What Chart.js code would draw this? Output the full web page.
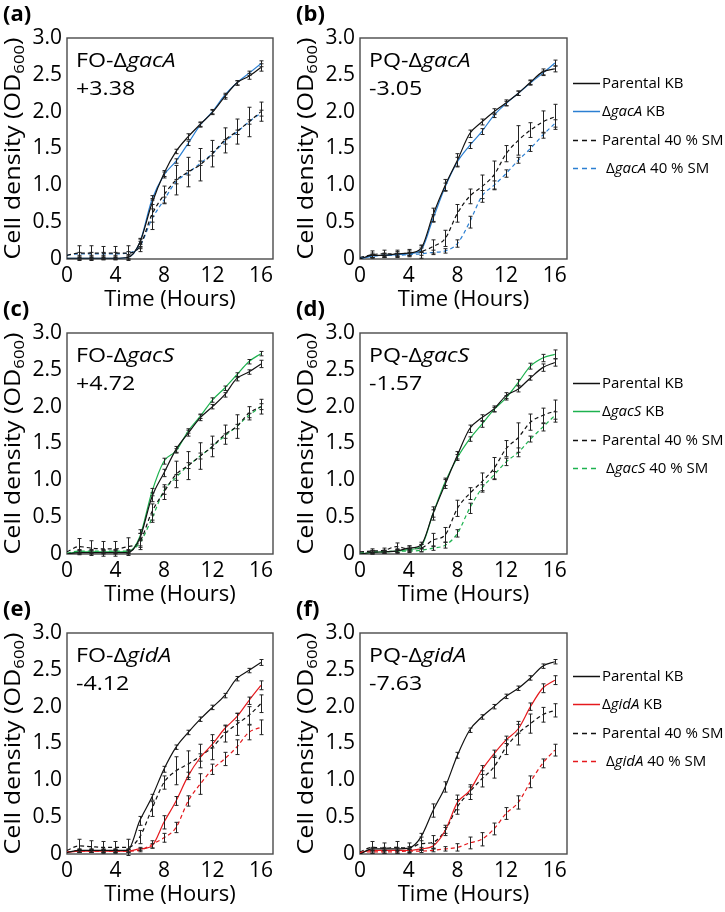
<!DOCTYPE html>
<html><head><meta charset="utf-8">
<script src="https://cdn.jsdelivr.net/npm/chart.js@4"></script>
<style>
html,body{margin:0;padding:0;background:#fff;overflow:hidden;width:725px;height:912px;}
.p{position:absolute;}
canvas{display:block;}
</style></head><body>
<div class="p" style="left:0;top:0"><canvas id="ca" width="278" height="312"></canvas></div>
<div class="p" style="left:293px;top:0"><canvas id="cb" width="432" height="312"></canvas></div>
<div class="p" style="left:0;top:295px"><canvas id="cc" width="278" height="312"></canvas></div>
<div class="p" style="left:293px;top:295px"><canvas id="cd" width="432" height="312"></canvas></div>
<div class="p" style="left:0;top:595px"><canvas id="ce" width="278" height="312"></canvas></div>
<div class="p" style="left:293px;top:595px"><canvas id="cf" width="432" height="312"></canvas></div>
<script>
// ---- shared axis data ----
const hours = [0,1,2,3,4,5,6,7,8,9,10,11,12,13,14,15,16];
const xTickValues = [0,4,8,12,16];
const yTickValues = [0,0.5,1.0,1.5,2.0,2.5,3.0];

// ---- panel (a) FO-ΔgacA ----
const aParKB = [0.01,0.01,0.01,0.01,0.01,0.02,0.22,0.75,1.16,1.46,1.66,1.83,1.99,2.20,2.39,2.48,2.60];
const aMutKB = [0.01,0.01,0.01,0.01,0.01,0.02,0.22,0.80,1.14,1.33,1.57,1.82,2.00,2.22,2.39,2.52,2.65];
const aParSM = [0.05,0.08,0.08,0.08,0.08,0.08,0.17,0.60,0.87,1.07,1.18,1.28,1.43,1.61,1.73,1.86,2.00];
const aMutSM = [0.05,0.07,0.07,0.07,0.07,0.08,0.17,0.54,0.80,1.05,1.17,1.30,1.43,1.59,1.72,1.86,1.98];
const aParKBErr = [0,0.02,0.02,0.02,0.02,0.02,0.06,0.07,0.04,0.03,0.04,0.03,0.03,0.03,0.03,0.04,0.05];
const aMutKBErr = [0,0.01,0.01,0.01,0.01,0.02,0.05,0.06,0.04,0.03,0.03,0.03,0.03,0.03,0.03,0.03,0.04];
const aParSMErr = [0,0.10,0.10,0.09,0.09,0.10,0.07,0.20,0.12,0.20,0.20,0.22,0.18,0.17,0.17,0.20,0.13];
const aMutSMErr = [0,0.02,0.02,0.02,0.02,0.02,0.03,0.04,0.04,0.03,0.03,0.03,0.03,0.03,0.03,0.03,0.04];

// ---- panel (b) PQ-ΔgacA ----
const bParKB = [0.00,0.05,0.05,0.07,0.08,0.14,0.60,1.00,1.34,1.70,1.86,2.00,2.12,2.25,2.40,2.54,2.58];
const bMutKB = [0.00,0.04,0.05,0.06,0.07,0.12,0.55,0.98,1.32,1.54,1.73,1.95,2.11,2.25,2.39,2.52,2.66];
const bParSM = [0.02,0.06,0.07,0.07,0.08,0.10,0.17,0.28,0.62,0.85,0.98,1.14,1.43,1.61,1.75,1.86,1.93];
const bMutSM = [0.02,0.04,0.05,0.05,0.06,0.07,0.09,0.11,0.21,0.50,0.85,1.00,1.16,1.34,1.50,1.68,1.84];
const bParKBErr = [0,0.03,0.03,0.03,0.03,0.04,0.09,0.08,0.09,0.05,0.04,0.04,0.04,0.03,0.03,0.04,0.04];
const bMutKBErr = [0,0.02,0.02,0.02,0.02,0.03,0.05,0.05,0.06,0.04,0.04,0.03,0.03,0.03,0.03,0.03,0.04];
const bParSMErr = [0,0.05,0.05,0.05,0.05,0.09,0.09,0.11,0.12,0.10,0.16,0.19,0.11,0.20,0.10,0.15,0.17];
const bMutSMErr = [0,0.02,0.02,0.02,0.02,0.02,0.03,0.03,0.05,0.08,0.08,0.06,0.05,0.04,0.04,0.04,0.05];

// ---- panel (c) FO-ΔgacS ----
const cParKB = [0.00,0.02,0.02,0.02,0.02,0.02,0.21,0.77,1.10,1.42,1.64,1.85,2.00,2.16,2.38,2.47,2.58];
const cMutKB = [0.00,0.03,0.03,0.03,0.03,0.03,0.23,0.84,1.26,1.40,1.67,1.87,2.09,2.25,2.43,2.61,2.72];
const cParSM = [0.03,0.10,0.08,0.07,0.07,0.10,0.17,0.57,0.84,1.08,1.20,1.33,1.46,1.62,1.73,1.91,2.00];
const cMutSM = [0.01,0.04,0.04,0.04,0.04,0.04,0.15,0.48,0.86,1.04,1.20,1.33,1.46,1.60,1.73,1.88,2.00];
const cParKBErr = [0,0.02,0.02,0.02,0.02,0.02,0.12,0.06,0.05,0.04,0.04,0.04,0.03,0.03,0.03,0.03,0.05];
const cMutKBErr = [0,0.02,0.02,0.02,0.02,0.02,0.05,0.05,0.04,0.03,0.03,0.03,0.03,0.03,0.03,0.03,0.03];
const cParSMErr = [0,0.11,0.10,0.10,0.10,0.12,0.11,0.11,0.10,0.18,0.19,0.18,0.14,0.13,0.16,0.09,0.10];
const cMutSMErr = [0,0.02,0.02,0.02,0.02,0.02,0.04,0.05,0.05,0.04,0.04,0.04,0.03,0.03,0.03,0.03,0.04];

// ---- panel (d) PQ-ΔgacS ----
const dParKB = [0.00,0.02,0.03,0.04,0.08,0.12,0.55,0.95,1.34,1.70,1.85,1.97,2.15,2.24,2.39,2.53,2.60];
const dMutKB = [0.00,0.02,0.03,0.04,0.06,0.10,0.55,0.98,1.31,1.56,1.76,1.96,2.12,2.33,2.55,2.66,2.71];
const dParSM = [0.03,0.04,0.05,0.10,0.07,0.08,0.19,0.26,0.62,0.82,0.98,1.16,1.43,1.58,1.79,1.88,1.94];
const dMutSM = [0.01,0.03,0.03,0.04,0.04,0.05,0.08,0.12,0.28,0.62,0.89,1.07,1.25,1.38,1.56,1.72,1.88];
const dParKBErr = [0,0.02,0.02,0.03,0.03,0.04,0.09,0.06,0.05,0.05,0.04,0.04,0.04,0.04,0.03,0.05,0.05];
const dMutKBErr = [0,0.02,0.02,0.02,0.02,0.03,0.05,0.05,0.04,0.03,0.04,0.03,0.03,0.04,0.04,0.05,0.06];
const dParSMErr = [0,0.03,0.03,0.05,0.04,0.05,0.09,0.10,0.11,0.08,0.12,0.15,0.11,0.20,0.11,0.10,0.15];
const dMutSMErr = [0,0.02,0.02,0.02,0.02,0.02,0.03,0.04,0.05,0.07,0.05,0.05,0.05,0.06,0.04,0.05,0.05];

// ---- panel (e) FO-ΔgidA ----
const eParKB = [0.02,0.05,0.05,0.05,0.05,0.05,0.45,0.77,1.15,1.45,1.65,1.83,1.99,2.15,2.38,2.49,2.60];
const eMutKB = [0.02,0.04,0.04,0.04,0.04,0.04,0.07,0.11,0.43,0.72,1.06,1.31,1.49,1.70,1.86,2.08,2.29];
const eParSM = [0.05,0.11,0.10,0.09,0.09,0.09,0.23,0.61,0.97,1.13,1.22,1.33,1.45,1.63,1.76,1.88,2.04];
const eMutSM = [0.03,0.04,0.04,0.04,0.04,0.04,0.05,0.13,0.22,0.36,0.72,0.95,1.15,1.29,1.45,1.65,1.72];
const eParKBErr = [0,0.02,0.02,0.02,0.02,0.02,0.06,0.04,0.04,0.03,0.03,0.03,0.03,0.03,0.03,0.03,0.04];
const eMutKBErr = [0,0.02,0.02,0.02,0.02,0.02,0.02,0.03,0.09,0.06,0.05,0.05,0.05,0.05,0.05,0.05,0.06];
const eParSMErr = [0,0.09,0.08,0.08,0.08,0.11,0.09,0.10,0.09,0.19,0.18,0.16,0.17,0.11,0.15,0.12,0.12];
const eMutSMErr = [0,0.02,0.02,0.02,0.02,0.02,0.02,0.05,0.06,0.07,0.07,0.14,0.07,0.09,0.10,0.10,0.10];

// ---- panel (f) PQ-ΔgidA ----
const fParKB = [0.00,0.07,0.07,0.07,0.08,0.23,0.59,0.91,1.34,1.68,1.86,2.00,2.14,2.25,2.39,2.55,2.61];
const fMutKB = [0.02,0.05,0.05,0.05,0.05,0.07,0.11,0.32,0.70,0.86,1.14,1.36,1.55,1.70,2.00,2.25,2.36];
const fParSM = [0.03,0.09,0.08,0.09,0.08,0.14,0.16,0.32,0.64,0.84,1.02,1.18,1.45,1.64,1.77,1.89,1.95];
const fMutSM = [0.02,0.03,0.03,0.03,0.04,0.04,0.05,0.07,0.09,0.15,0.20,0.34,0.55,0.70,0.98,1.23,1.41];
const fParKBErr = [0,0.02,0.02,0.02,0.02,0.05,0.09,0.07,0.04,0.03,0.03,0.03,0.03,0.03,0.03,0.03,0.03];
const fMutKBErr = [0,0.02,0.02,0.02,0.02,0.02,0.03,0.04,0.10,0.05,0.06,0.05,0.05,0.06,0.05,0.06,0.06];
const fParSMErr = [0,0.08,0.07,0.08,0.07,0.09,0.09,0.07,0.10,0.10,0.11,0.15,0.10,0.16,0.13,0.10,0.09];
const fMutSMErr = [0,0.02,0.02,0.02,0.02,0.02,0.02,0.03,0.05,0.08,0.09,0.08,0.08,0.09,0.08,0.06,0.08];

// ---- labels ----
const panelLetters = ['(a)','(b)','(c)','(d)','(e)','(f)'];
const panelPrefixes = ['FO-','PQ-','FO-','PQ-','FO-','PQ-'];
const panelGenes = ['gacA','gacA','gacS','gacS','gidA','gidA'];
const panelScores = ['+3.38','-3.05','+4.72','-1.57','-4.12','-7.63'];
const seriesSuffixes = [' KB', ' KB', ' 40 % SM', ' 40 % SM'];
const seriesIsMutant = [false, true, false, true];
const mutantColors = {gacA:'#2b7fd2', gacS:'#1db24f', gidA:'#e5191d'};
const xTitle = 'Time (Hours)';
const yTitleMain = 'Cell density (OD';
const yTitleSub = '600';
const yTitleEnd = ')';

const FONT = '"Open Sans", "Liberation Sans", sans-serif';

function pts(vals){ return hours.map((h,i)=>({x:h, y:vals[i]})); }

function errorBarsPlugin(){
  return {
    id:'errorBars',
    afterDatasetsDraw(chart){
      const {ctx, scales:{x, y}} = chart;
      ctx.save();
      ctx.strokeStyle = '#222';
      ctx.lineWidth = 1;
      chart.data.datasets.forEach(ds=>{
        const errs = ds.errorValues;
        if(!errs) return;
        ds.data.forEach((p,j)=>{
          const e = errs[j];
          if(!e) return;
          const px = Math.round(x.getPixelForValue(p.x)) + 0.5;
          const y1 = y.getPixelForValue(p.y - e), y2 = y.getPixelForValue(p.y + e);
          ctx.beginPath();
          ctx.moveTo(px, y1); ctx.lineTo(px, y2);
          ctx.moveTo(px-2, y1); ctx.lineTo(px+2, y1);
          ctx.moveTo(px-2, y2); ctx.lineTo(px+2, y2);
          ctx.stroke();
        });
      });
      ctx.restore();
    }
  };
}

function framePlugin(){
  return {
    id:'frame',
    beforeDatasetsDraw(chart){
      const {ctx, chartArea:a} = chart;
      ctx.save();
      ctx.strokeStyle = '#4a4a4a';
      ctx.lineWidth = 1.4;
      ctx.strokeRect(a.left, a.top, a.right - a.left, a.bottom - a.top);
      ctx.restore();
    }
  };
}

function yTitlePlugin(){
  return {
    id:'yTitleSub',
    afterDraw(chart){
      const {ctx, chartArea:a} = chart;
      const big = '21px ' + FONT, small = '14px ' + FONT;
      ctx.save();
      ctx.translate(a.left - 53, (a.top + a.bottom)/2);
      ctx.rotate(-Math.PI/2);
      ctx.font = big; const w1 = ctx.measureText(yTitleMain).width;
      ctx.font = small; const w2 = ctx.measureText(yTitleSub).width;
      ctx.font = big; const w3 = ctx.measureText(yTitleEnd).width;
      const total = w1 + w2 + w3;
      const s = Math.min(1.3, 222 / total);
      ctx.scale(s, 1);
      ctx.fillStyle = '#000';
      ctx.textBaseline = 'alphabetic';
      let xx = -total/2;
      ctx.font = big; ctx.fillText(yTitleMain, xx, 6); xx += w1;
      ctx.font = small; ctx.fillText(yTitleSub, xx, 10); xx += w2;
      ctx.font = big; ctx.fillText(yTitleEnd, xx, 6);
      ctx.restore();
    }
  };
}

function drawParts(ctx, parts, x, y, size){
  parts.forEach(([t, it])=>{
    ctx.font = (it ? 'italic ' : '') + size + 'px ' + FONT;
    ctx.fillText(t, x, y);
    x += ctx.measureText(t).width;
  });
}

function annotationPlugin(i){
  return {
    id:'panelLabel',
    afterDraw(chart){
      const {ctx, chartArea:a} = chart;
      ctx.save();
      ctx.fillStyle = '#000';
      ctx.textBaseline = 'alphabetic';
      ctx.translate(a.left + 9, 0);
      ctx.scale(1.16, 1);
      drawParts(ctx, [[panelPrefixes[i], false], ['\u0394', false], [panelGenes[i], true]], 0, a.top + 29, 20);
      ctx.font = '20px ' + FONT;
      ctx.fillText(panelScores[i], 0, a.top + 57);
      ctx.restore();
    }
  };
}

// side legend drawn from the datasets' own styles, with italic gene names
function sideLegendPlugin(i, offsetTop){
  return {
    id:'sideLegend',
    afterDraw(chart){
      const {ctx, chartArea:a} = chart;
      ctx.save();
      ctx.textBaseline = 'middle';
      chart.data.datasets.forEach((ds, k)=>{
        const cy = Math.round(a.top + offsetTop + k * 28.3) + 0.5;
        ctx.strokeStyle = ds.borderColor;
        ctx.lineWidth = 1.5;
        ctx.setLineDash(ds.borderDash && ds.borderDash.length ? [5, 4] : []);
        ctx.beginPath();
        ctx.moveTo(a.right + 6, cy);
        ctx.lineTo(a.right + 33, cy);
        ctx.stroke();
        ctx.setLineDash([]);
        ctx.fillStyle = '#000';
        const parts = seriesIsMutant[k]
          ? [['\u0394', false], [panelGenes[i], true], [seriesSuffixes[k], false]]
          : [['Parental' + seriesSuffixes[k], false]];
        drawParts(ctx, parts, a.right + 35 + (k === 3 ? 4 : 0), cy, 15);
      });
      ctx.restore();
    }
  };
}

function makePanel(canvasId, i, series, withLegend, legendTop){
  const gene = panelGenes[i];
  const mc = mutantColors[gene];
  const colors = ['#111111', mc, '#111111', mc];
  const dashes = [[], [], [4,3], [4,3]];
  const datasets = series.map((s, k)=>({
    label: (seriesIsMutant[k] ? '\u0394' + gene : 'Parental') + seriesSuffixes[k],
    data: pts(s.vals),
    errorValues: s.errs,
    borderColor: colors[k],
    backgroundColor: colors[k],
    borderWidth: 1.2,
    borderDash: dashes[k],
    pointRadius: 0,
    cubicInterpolationMode: 'monotone',
    fill: false
  }));
  const plugins = [framePlugin(), errorBarsPlugin(), yTitlePlugin(), annotationPlugin(i)];
  if (withLegend) plugins.push(sideLegendPlugin(i, legendTop));
  return new Chart(document.getElementById(canvasId), {
    type:'line',
    data:{datasets},
    options:{
      responsive:false,
      animation:false,
      devicePixelRatio:1,
      events:[],
      layout:{padding:{left:3, right: withLegend ? 158 : 5, top:0, bottom:0}},
      plugins:{
        title:{display:true, text:panelLetters[i], align:'start', color:'#000',
          font:{family:FONT, size:22, weight:'bold', lineHeight:1.2}, padding:{top:2, bottom:9.6}},
        legend:{display:false},
        tooltip:{enabled:false}
      },
      scales:{
        x:{type:'linear', min:0, max:17,
          afterFit:(s)=>{ s.height = 53; },
          grid:{display:false, drawTicks:false}, border:{display:false},
          ticks:{stepSize:4, includeBounds:false, padding:4, color:'#000', font:{family:FONT, size:21},
            callback:(v)=> xTickValues.includes(v) ? String(v) : ''},
          title:{display:true, text:xTitle, color:'#000', font:{family:FONT, size:22, lineHeight:1.15}, padding:{top:0, bottom:0}}
        },
        y:{type:'linear', min:0, max:3,
          afterFit:(s)=>{ s.width = 64; },
          grid:{display:false, drawTicks:false}, border:{display:false},
          ticks:{stepSize:0.5, padding:5, color:'#000', font:{family:FONT, size:21},
            callback:(v)=> yTickValues.includes(v) ? (v === 0 ? '0' : v.toFixed(1)) : ''}
        }
      }
    },
    plugins
  });
}

makePanel('ca', 0, [{vals:aParKB, errs:aParKBErr},{vals:aMutKB, errs:aMutKBErr},{vals:aParSM, errs:aParSMErr},{vals:aMutSM, errs:aMutSMErr}], false, 0);
makePanel('cb', 1, [{vals:bParKB, errs:bParKBErr},{vals:bMutKB, errs:bMutKBErr},{vals:bParSM, errs:bParSMErr},{vals:bMutSM, errs:bMutSMErr}], true, 45);
makePanel('cc', 2, [{vals:cParKB, errs:cParKBErr},{vals:cMutKB, errs:cMutKBErr},{vals:cParSM, errs:cParSMErr},{vals:cMutSM, errs:cMutSMErr}], false, 0);
makePanel('cd', 3, [{vals:dParKB, errs:dParKBErr},{vals:dMutKB, errs:dMutKBErr},{vals:dParSM, errs:dParSMErr},{vals:dMutSM, errs:dMutSMErr}], true, 50);
makePanel('ce', 4, [{vals:eParKB, errs:eParKBErr},{vals:eMutKB, errs:eMutKBErr},{vals:eParSM, errs:eParSMErr},{vals:eMutSM, errs:eMutSMErr}], false, 0);
makePanel('cf', 5, [{vals:fParKB, errs:fParKBErr},{vals:fMutKB, errs:fMutKBErr},{vals:fParSM, errs:fParSMErr},{vals:fMutSM, errs:fMutSMErr}], true, 43);
</script>
</body></html>
